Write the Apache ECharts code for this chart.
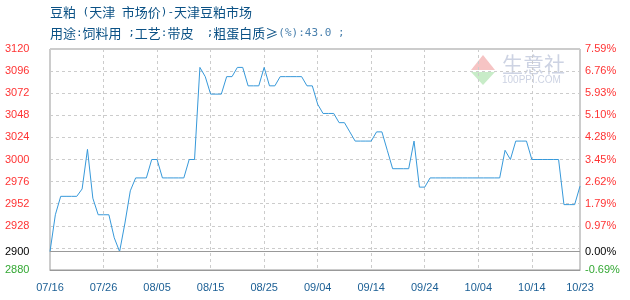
<!DOCTYPE html>
<html>
<head>
<meta charset="utf-8">
<script src="https://cdn.jsdelivr.net/npm/echarts@6/dist/echarts.min.js"></script>
<style>html,body{margin:0;padding:0;background:#fff}#c{width:630px;height:300px}</style>
</head>
<body>
<div id="c"></div>
<script>
// ---- data ----
// title pieces: [styleName, text]
const titleLine1 = [
  ['a', '豆粕'], ['m', ' ('], ['a', '天津'], ['m', ' '],
  ['a', '市场价'], ['m', ')-'], ['a', '天津豆粕市场']
];
const titleLine2 = [
  ['a', '用途'], ['m', ':'], ['a', '饲料用'], ['m', ' ;'],
  ['a', '工艺'], ['m', ':'], ['a', '带皮'], ['m', '  ;'],
  ['a', '粗蛋白质≥'], ['p', '(%):43.0 ;']
];
const startDate = '2019-07-16';
const dayCount = 100;
const prices = [
  2900, 2940, 2960, 2960, 2960, 2960, 2968, 3011, 2958, 2940,
  2940, 2940, 2915, 2900, 2931, 2966, 2980, 2980, 2980, 3000,
  3000, 2980, 2980, 2980, 2980, 2980, 3000, 3000, 3100, 3090,
  3071, 3071, 3071, 3090, 3090, 3100, 3100, 3080, 3080, 3080,
  3100, 3080, 3080, 3090, 3090, 3090, 3090, 3090, 3080, 3080,
  3060, 3050, 3050, 3050, 3040, 3040, 3030, 3020, 3020, 3020,
  3020, 3030, 3030, 3010, 2990, 2990, 2990, 2990, 3020, 2970,
  2970, 2980, 2980, 2980, 2980, 2980, 2980, 2980, 2980, 2980,
  2980, 2980, 2980, 2980, 2980, 3010, 3000, 3020, 3020, 3020,
  3000, 3000, 3000, 3000, 3000, 3000, 2951, 2951, 2951, 2971
];
const basePrice = 2900;
const yMin = 2880, yMax = 3120, yStep = 24;
const yLabelValues = [2880, 2900, 2928, 2952, 2976, 3000, 3024, 3048, 3072, 3096, 3120];

// categories (daily dates)
const categories = [];
(function(){
  const d0 = new Date(startDate + 'T00:00:00Z');
  for (let i = 0; i < dayCount; i++) {
    const d = new Date(d0.getTime() + i * 86400000);
    const mm = String(d.getUTCMonth() + 1).padStart(2, '0');
    const dd = String(d.getUTCDate()).padStart(2, '0');
    categories.push(mm + '/' + dd);
  }
})();

const lastIdx = dayCount - 1;
const showIdx = (i) => i % 10 === 0 || i === lastIdx;
const labelColor = (v) => {
  const n = typeof v === 'string' ? parseFloat(v) : v;
  if (Math.abs(n - basePrice) < 0.5) return '#000000';
  return n > basePrice ? '#ff3333' : '#33a833';
};
const pct = (v) => ((v - basePrice) / basePrice * 100).toFixed(2) + '%';
const richLine = (pieces) => pieces.map(p => '{' + p[0] + '|' + p[1] + '}').join('');
const titleText = richLine(titleLine1) + '\n' + richLine(titleLine2);

const chart = echarts.init(document.getElementById('c'), null, {renderer: 'canvas'});
chart.setOption({
  animation: false,
  backgroundColor: '#ffffff',
  title: {
    text: titleText,
    left: 50, top: 2, padding: 0,
    textStyle: {
      fontSize: 13, fontWeight: 'normal', color: '#0b5185', lineHeight: 21,
      fontFamily: '"Noto Sans CJK SC", sans-serif',
      rich: {
        a: {fontSize: 13, color: '#0b5185', lineHeight: 21, fontFamily: '"Noto Sans CJK SC", sans-serif'},
        m: {fontSize: 11, color: '#0b5185', lineHeight: 21, fontFamily: '"DejaVu Sans Mono", monospace'},
        p: {fontSize: 11, color: '#4a80ad', lineHeight: 21, fontFamily: '"DejaVu Sans Mono", monospace'}
      }
    }
  },
  graphic: [
    {type: 'polygon', silent: true, shape: {points: [[483, 55], [471, 70], [495, 70]]}, style: {fill: '#f6c4c4'}},
    {type: 'polygon', silent: true, shape: {points: [[471, 72], [495, 72], [483, 85]]}, style: {fill: '#c8ecc8'}},
    {type: 'text', silent: true, left: 502, top: 54, style: {text: '生意社', fontSize: 21, fill: '#cdd3e3', fontFamily: '"Noto Sans CJK SC", sans-serif'}},
    {type: 'text', silent: true, left: 502, top: 75, style: {text: '100PPI.COM', fontSize: 10, fill: '#cdd3e3', fontFamily: 'Liberation Sans, sans-serif'}}
  ],
  grid: {left: 50, right: 50, top: 49, bottom: 30, show: true, borderColor: '#999', borderWidth: 1},
  xAxis: {
    type: 'category',
    data: categories,
    boundaryGap: false,
    axisLine: {lineStyle: {color: '#999'}},
    axisTick: {show: false},
    axisLabel: {
      interval: (i) => showIdx(i),
      color: '#1a5e94', fontSize: 11, margin: 12,
      fontFamily: 'Liberation Sans, sans-serif'
    },
    splitLine: {show: true, interval: (i) => showIdx(i), lineStyle: {color: '#cccccc', type: [3, 3]}}
  },
  yAxis: [
    {
      type: 'value', min: yMin, max: yMax, interval: yStep, position: 'left',
      axisLine: {show: false}, axisTick: {show: false},
      splitLine: {show: true, lineStyle: {color: '#cccccc', type: [3, 3]}},
      axisLabel: {
        customValues: yLabelValues,
        align: 'left', margin: 45, fontSize: 11,
        fontFamily: 'Liberation Sans, sans-serif',
        color: (v) => labelColor(v),
        formatter: (v) => String(Math.round(v))
      }
    },
    {
      type: 'value', min: yMin, max: yMax, interval: yStep, position: 'right',
      axisLine: {show: false}, axisTick: {show: false}, splitLine: {show: false},
      axisLabel: {
        customValues: yLabelValues,
        align: 'left', margin: 5, fontSize: 11,
        fontFamily: 'Liberation Sans, sans-serif',
        color: (v) => labelColor(v),
        formatter: (v) => pct(v)
      }
    }
  ],
  series: [{
    type: 'line',
    data: prices,
    symbol: 'none',
    lineStyle: {color: '#3799da', width: 1},
    markLine: {
      silent: true, symbol: 'none', animation: false,
      label: {show: false},
      lineStyle: {color: '#999', type: 'solid', width: 1},
      data: [{yAxis: basePrice}]
    }
  }]
});
</script>
</body>
</html>
